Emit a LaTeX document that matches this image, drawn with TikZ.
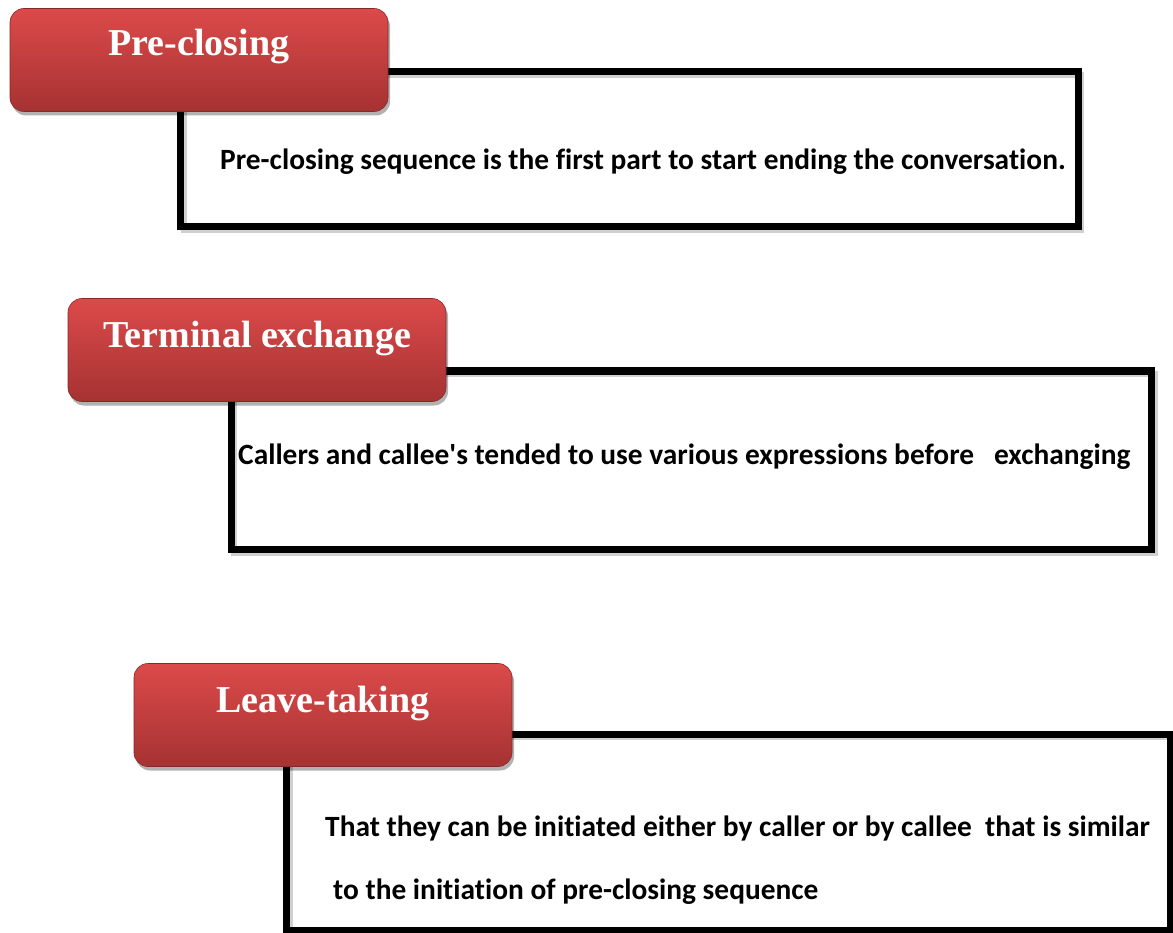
\documentclass[tikz,border=0pt]{standalone}
\usepackage{fontspec}
\newfontfamily\bodyfont[Ligatures=NoCommon]{Carlito}
\newfontfamily\titlefont{Liberation Serif}
\usetikzlibrary{shadows}
\definecolor{redtop}{RGB}{220,74,74}
\definecolor{redbot}{RGB}{166,50,50}
\definecolor{shadowgray}{RGB}{150,150,150}
\tikzset{
  outlinebox/.style={draw=black, line width=7pt, fill=none},
  outlineshadow/.style={draw=shadowgray, line width=6pt, opacity=0.45},
  titlebox/.style={rounded corners=14pt, top color=redtop, bottom color=redbot,
    draw=redbot!80!black, line width=0.6pt,
    drop shadow={shadow xshift=2pt, shadow yshift=-4pt, opacity=0.3, fill=black},
    minimum width=378pt, minimum height=103pt, inner sep=0pt},
  titletext/.style={text=white, inner sep=0pt,
    font=\titlefont\bfseries\fontsize{38}{40}\selectfont},
  bodytext/.style={anchor=west, inner sep=0pt, text=black,
    font=\bodyfont\bfseries\fontsize{29.4}{32}\selectfont}
}
\begin{document}
\begin{tikzpicture}[x=1pt,y=-1pt]
\useasboundingbox (0,0) rectangle (1173,933);
% ---- box 1 ----
\draw[outlineshadow] (184,75) rectangle (1081,230);
\draw[outlinebox] (180,72) coordinate (o1a) rectangle (1078,227) coordinate (o1b);
\node[titlebox] (t1) at (199,60) {};
\node[titletext] (t1l) at (199,47) {Pre-closing};
\node[bodytext] (b1) at (220,162) {Pre-closing sequence is the first part to start ending the conversation.};
% ---- box 2 ----
\draw[outlineshadow] (234,374) rectangle (1155,553);
\draw[outlinebox] (231,371) coordinate (o2a) rectangle (1151,549) coordinate (o2b);
\node[titlebox] (t2) at (257,350) {};
\node[titletext] (t2l) at (257,339) {Terminal exchange};
\node[bodytext] (b2) at (238,457) {Callers and callee's tended to use various expressions before\ \ \ exchanging};
% ---- box 3 ----
\draw[outlineshadow] (290,737) rectangle (1176,936);
\draw[outlinebox] (286,734) coordinate (o3a) rectangle (1170,930) coordinate (o3b);
\node[titlebox] (t3) at (323,715) {};
\node[titletext] (t3l) at (323,704) {Leave-taking};
\node[bodytext] (b3) at (325,828) {That they can be initiated either by caller or by callee\ \ that is similar};
\node[bodytext] (b4) at (333,892) {to the initiation of pre-closing sequence};
\end{tikzpicture}
\end{document}
